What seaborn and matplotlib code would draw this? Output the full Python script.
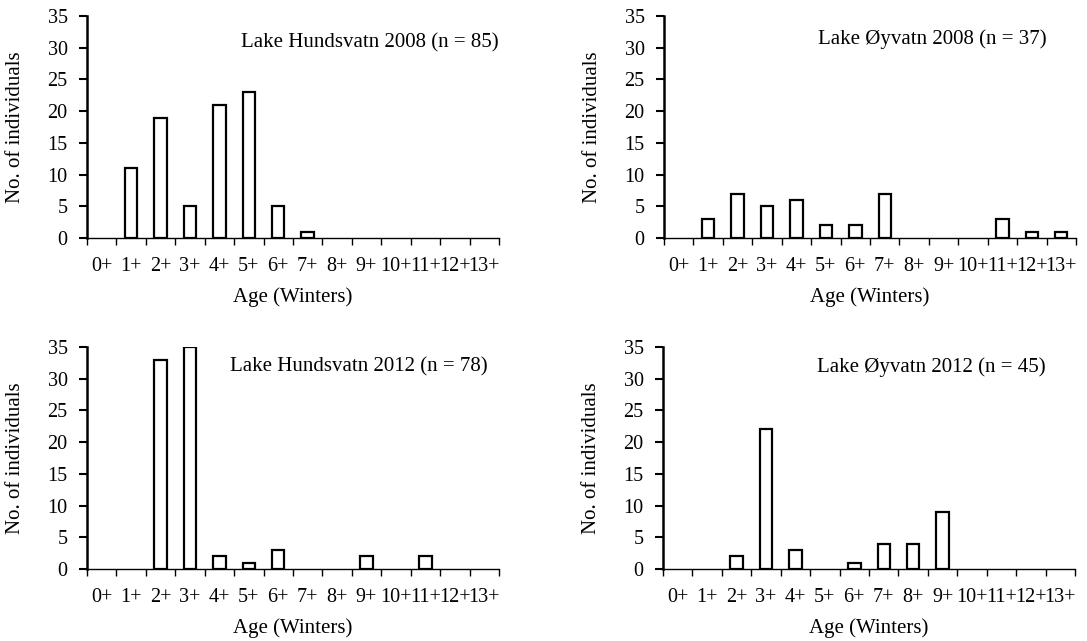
import numpy as np
import pandas as pd
import seaborn as sns
import matplotlib.pyplot as plt
from matplotlib.ticker import FixedLocator

# Age classes and counts per lake / year
ages = ['0+', '1+', '2+', '3+', '4+', '5+', '6+', '7+', '8+', '9+', '10+', '11+', '12+', '13+']
hundsvatn_2008 = [0, 11, 19, 5, 21, 23, 5, 1, 0, 0, 0, 0, 0, 0]
oyvatn_2008 = [0, 3, 7, 5, 6, 2, 2, 7, 0, 0, 0, 3, 1, 1]
hundsvatn_2012 = [0, 0, 33, 35, 2, 1, 3, 0, 0, 2, 0, 2, 0, 0]
oyvatn_2012 = [0, 0, 2, 22, 3, 0, 1, 4, 4, 9, 0, 0, 0, 0]

titles = ['Lake Hundsvatn 2008 (n = 85)', 'Lake Øyvatn 2008 (n = 37)',
          'Lake Hundsvatn 2012 (n = 78)', 'Lake Øyvatn 2012 (n = 45)']
series = [hundsvatn_2008, oyvatn_2008, hundsvatn_2012, oyvatn_2012]

sns.set_style('ticks')
plt.rcParams['font.family'] = ['Liberation Serif', 'DejaVu Serif']
plt.rcParams['text.color'] = 'black'
plt.rcParams['axes.labelcolor'] = 'black'
plt.rcParams['xtick.color'] = 'black'
plt.rcParams['ytick.color'] = 'black'
plt.rcParams['axes.edgecolor'] = 'black'

fig = plt.figure(figsize=(10.87, 6.41), dpi=100)

# axes rectangles [left, bottom, width, height] in figure fraction
rects = [
    [0.0800, 0.6287, 0.379, 0.3463],
    [0.6109, 0.6287, 0.379, 0.3463],
    [0.0800, 0.1123, 0.379, 0.3463],
    [0.6100, 0.1123, 0.379, 0.3463],
]
title_pos = [(0.686, 0.877), (0.651, 0.895), (0.66, 0.909), (0.651, 0.909)]

for rect, vals, title, tpos in zip(rects, series, titles, title_pos):
    ax = fig.add_axes(rect)
    df = pd.DataFrame({'age': ages, 'n': vals})
    sns.barplot(data=df, x='age', y='n', order=ages, color='white',
                edgecolor='black', linewidth=1.6, width=0.42, saturation=1,
                ax=ax, zorder=2)
    # empty age classes show no bar
    for p in ax.patches:
        if p.get_height() == 0:
            p.set_visible(False)
    ax.set_xlim(-0.5, len(ages) - 0.5)
    ax.set_ylim(0, 35)
    ax.set_yticks(np.arange(0, 36, 5))
    ax.xaxis.set_minor_locator(FixedLocator(np.arange(-0.5, len(ages), 1)))
    ax.tick_params(axis='x', which='major', length=0, pad=14, labelsize=14.5)
    ax.tick_params(axis='x', which='minor', length=5, width=1, direction='out')
    ax.tick_params(axis='y', length=6, width=1.5, pad=8, labelsize=14.5)
    for s in ['top', 'right']:
        ax.spines[s].set_visible(False)
    ax.spines['left'].set_linewidth(1.8)
    ax.spines['bottom'].set_linewidth(1.0)
    ax.spines['left'].set_zorder(3)
    ax.spines['bottom'].set_zorder(3)
    ax.set_xlabel('Age (Winters)', fontsize=15, va='center')
    ax.set_ylabel('No. of individuals', fontsize=15, va='center')
    ax.xaxis.set_label_coords(0.5, -0.268)
    ax.yaxis.set_label_coords(-0.174, 0.5)
    ax.text(tpos[0], tpos[1], title, transform=ax.transAxes, ha='center',
            va='center', fontsize=15)

fig.savefig('out.png', dpi=100, facecolor='white')
